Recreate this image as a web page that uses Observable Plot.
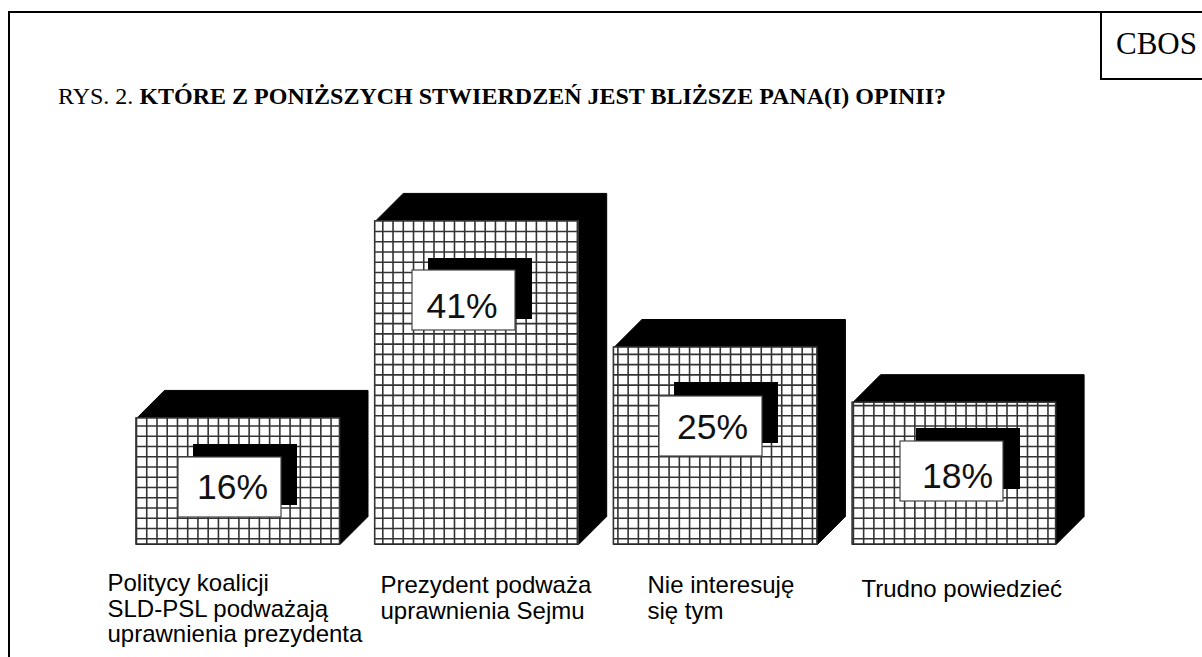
<!DOCTYPE html>
<html lang="pl">
<head>
<meta charset="utf-8">
<script src="https://cdn.jsdelivr.net/npm/d3@7"></script>
<script src="https://cdn.jsdelivr.net/npm/@observablehq/plot@0.6"></script>
<style>
  html, body { margin: 0; padding: 0; background: #fff; overflow: hidden; }
  #page { position: relative; width: 1202px; height: 657px; }
  #page svg { position: absolute; left: 0; top: 0; background: transparent; }
  #frame { position: absolute; left: 8px; top: 11px; right: -4px; bottom: -4px; border: 2px solid #000; }
  #tag { position: absolute; left: 1100px; top: 11px; width: 110px; height: 65px; border: 2px solid #000;
         font: 31px/1 "Liberation Serif", serif; color: #000; }
  #tag span { position: absolute; left: 14px; top: 15px; }
  #title { position: absolute; left: 58px; top: 82px; font: 24px/1.2 "Liberation Serif", serif; color: #000; white-space: nowrap; }
</style>
</head>
<body>
<div id="page">
  <div id="frame"></div>
  <div id="tag"><span>CBOS</span></div>
  <div id="title">RYS. 2. <b>KTÓRE Z PONIŻSZYCH STWIERDZEŃ JEST BLIŻSZE PANA(I) OPINII?</b></div>
</div>
<script>
// Data
const categories = [
  "Politycy koalicji\nSLD-PSL podważają\nuprawnienia prezydenta",
  "Prezydent podważa\nuprawnienia Sejmu",
  "Nie interesuję\nsię tym",
  "Trudno powiedzieć"
];
const values = [16, 41, 25, 18];
const valueLabels = ["16%", "41%", "25%", "18%"];

// Layout (pixels in the reference picture, converted through the scales)
const W = 1202, H = 657;
const baseY = 544, pxPerUnit = 7.88;
const firstX = 136, stepX = 238.7, barPx = 203.5, depthPx = 28, cellPx = 10.24;
const gridFirstPx = [0, 7.6, 4, 0.8];        // first vertical grid line inside each bar
const gridBaseUnits = 5.8 / pxPerUnit;       // lowest horizontal grid line
const boxLeftPx = [178, 412, 659, 900];
const boxTopPx = [457, 270, 396, 441];
const boxW = 103, boxH = 60;
const shadowDx = [15, 16, 15, 16], shadowDy = [-13, -12, -14, -13];
const valueCx = [232, 461.5, 712, 957];
const valueBase = [498, 317, 438, 487];
const catX = [107, 380, 647, 861];
const catTopBase = [590, 592, 592, 596];
const valueFont = 35.5, catFont = 24;

const ix = px => (px - firstX) / stepX;      // pixel -> x scale units
const iy = py => (baseY - py) / pxPerUnit;   // pixel -> y scale units
const barW = barPx / stepX, dX = depthPx / stepX, dY = depthPx / pxPerUnit;

const bars = values.map((v, i) => ({i, v}));
const sides = bars.flatMap(({i, v}) => [
  {i, x: i, y: v},
  {i, x: i + dX, y: v + dY},
  {i, x: i + barW + dX, y: v + dY},
  {i, x: i + barW + dX, y: dY},
  {i, x: i + barW, y: 0},
  {i, x: i, y: 0}
]);
const vGrid = bars.flatMap(({i, v}) =>
  d3.range(gridFirstPx[i], barPx, cellPx).map(p => ({x: i + p / stepX, v})));
const hGrid = bars.flatMap(({i, v}) =>
  d3.range(gridBaseUnits, v, cellPx / pxPerUnit).map(y => ({i, y})));
const boxes = bars.map(({i}) => ({
  i,
  x1: ix(boxLeftPx[i]), x2: ix(boxLeftPx[i] + boxW),
  y1: iy(boxTopPx[i] + boxH), y2: iy(boxTopPx[i]),
  sx1: ix(boxLeftPx[i] + shadowDx[i]), sx2: ix(boxLeftPx[i] + shadowDx[i] + boxW + 1),
  sy1: iy(boxTopPx[i] + shadowDy[i] + boxH + 1), sy2: iy(boxTopPx[i] + shadowDy[i])
}));

const chart = Plot.plot({
  width: W, height: H,
  margin: 0,
  x: {domain: [ix(0), ix(W)], range: [0, W], axis: null},
  y: {domain: [iy(0), iy(H)], range: [0, H], axis: null},
  marks: [
    Plot.line(sides, {x: "x", y: "y", z: "i", fill: "#000", stroke: "#000", strokeWidth: 1}),
    Plot.rect(bars, {x1: "i", x2: d => d.i + barW, y1: 0, y2: "v", fill: "#fff"}),
    Plot.ruleX(vGrid, {x: "x", y1: 0, y2: "v", stroke: "#333", strokeWidth: 1.6}),
    Plot.ruleY(hGrid, {y: "y", x1: "i", x2: d => d.i + barW, stroke: "#333", strokeWidth: 1.6}),
    Plot.rect(bars, {x1: "i", x2: d => d.i + barW, y1: 0, y2: "v", fill: "none", stroke: "#333", strokeWidth: 1.6}),
    Plot.rect(boxes, {x1: "sx1", x2: "sx2", y1: "sy1", y2: "sy2", fill: "#000"}),
    Plot.rect(boxes, {x1: "x1", x2: "x2", y1: "y1", y2: "y2", fill: "#fff", stroke: "#444", strokeWidth: 1.2}),
    Plot.text(valueLabels, {
      x: (d, i) => ix(valueCx[i]), y: (d, i) => iy(valueBase[i]), text: d => d,
      textAnchor: "middle", lineAnchor: "top", fontSize: valueFont,
      fontFamily: "Liberation Sans", fill: "#111", dy: -0.71 * valueFont
    }),
    Plot.text(categories, {
      x: (d, i) => ix(catX[i]), y: (d, i) => iy(catTopBase[i]), text: d => d,
      textAnchor: "start", lineAnchor: "top", lineHeight: 25.3 / catFont, fontSize: catFont,
      fontFamily: "Liberation Sans", fill: "#000", dy: -0.71 * catFont
    })
  ]
});
document.getElementById("page").appendChild(chart);
</script>
</body>
</html>
